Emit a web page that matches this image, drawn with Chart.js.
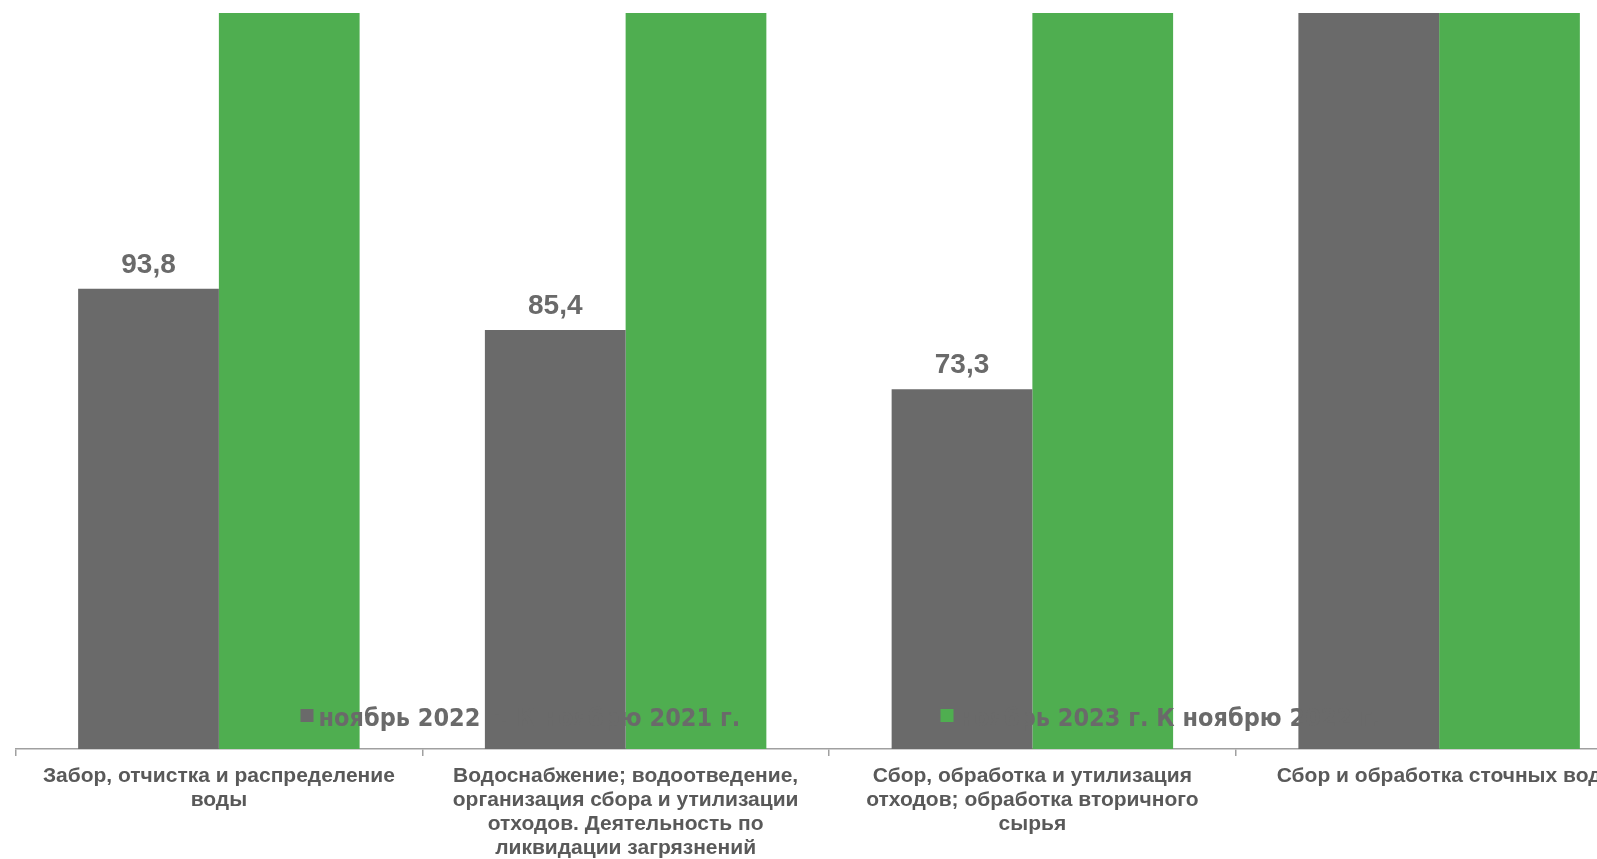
<!DOCTYPE html>
<html>
<head>
<meta charset="utf-8">
<script src="https://cdn.jsdelivr.net/npm/chart.js@4"></script>
<style>
html, body { margin: 0; padding: 0; background: #fff; overflow: hidden; }
#wrap { width: 1597px; height: 859px; overflow: hidden; position: relative; }
canvas { display: block; }
</style>
</head>
<body>
<div id="wrap"><canvas id="chart" width="1660" height="859"></canvas></div>
<script>
// Categories (wrapped the way the original labels wrap)
const CATEGORIES = [
    ['Забор, отчистка и распределение', 'воды'],
    ['Водоснабжение; водоотведение,', 'организация сбора и утилизации', 'отходов. Деятельность по', 'ликвидации загрязнений'],
    ['Сбор, обработка и утилизация', 'отходов; обработка вторичного', 'сырья'],
    ['Сбор и обработка сточных вод']
];

// Series values, % (bars above 150 run off the top of the plot)
const SERIES_2022 = [93.8, 85.4, 73.3, 158.6];
const SERIES_2023 = [181.2, 176.5, 212.4, 163.9];

const SERIES_NAMES = ['ноябрь 2022 г. К ноябрю 2021 г.', 'ноябрь 2023 г. К ноябрю 2022 г.'];

const Y_MIN = 0;
const Y_MAX = 150;

const GREY = '#6a6a6a';
const GREEN = '#4fae50';
const FONT = '"Liberation Sans", Arial, sans-serif';
const NARROW_FONT = '"Liberation Sans Narrow", "DejaVu Sans Condensed", sans-serif';

// Value labels above the bars that stay inside the plot
const barValueLabels = {
    id: 'barValueLabels',
    afterDatasetsDraw(chart) {
        const ctx = chart.ctx;
        ctx.save();
        ctx.font = 'bold 28px ' + FONT;
        ctx.fillStyle = GREY;
        ctx.textAlign = 'center';
        ctx.textBaseline = 'alphabetic';
        chart.data.datasets.forEach((ds, i) => {
            if (!ds.showValues) return;
            const meta = chart.getDatasetMeta(i);
            meta.data.forEach((bar, j) => {
                const v = ds.data[j];
                if (v > Y_MAX) return;
                ctx.fillText(v.toFixed(1).replace('.', ','), bar.x, bar.y - 16);
            });
        });
        ctx.restore();
    }
};

// Legend drawn over the bars, like in the original
const overlayLegend = {
    id: 'overlayLegend',
    afterDatasetsDraw(chart) {
        const ctx = chart.ctx;
        const area = chart.chartArea;
        ctx.save();
        ctx.font = 'bold 25px ' + NARROW_FONT;
        ctx.textBaseline = 'alphabetic';
        ctx.textAlign = 'left';
        chart.data.datasets.forEach((ds, i) => {
            const x = area.left + 285 + i * 640;
            ctx.fillStyle = ds.backgroundColor;
            ctx.fillRect(x, area.bottom - 40, 13, 13);
            ctx.fillStyle = GREY;
            ctx.fillText(ds.label, x + 18, area.bottom - 23);
        });
        ctx.restore();
    }
};

const ctx = document.getElementById('chart').getContext('2d');
const chart = new Chart(ctx, {
    type: 'bar',
    data: {
        labels: CATEGORIES,
        datasets: [{
            label: SERIES_NAMES[0],
            data: SERIES_2022,
            backgroundColor: GREY,
            showValues: true,
            clip: 0
        }, {
            label: SERIES_NAMES[1],
            data: SERIES_2023,
            backgroundColor: GREEN,
            showValues: false,
            clip: 0
        }]
    },
    options: {
        responsive: false,
        animation: false,
        categoryPercentage: 0.692,
        barPercentage: 1.0,
        layout: {
            padding: { top: 13, left: 15.5, right: 17.5, bottom: 0 }
        },
        plugins: {
            legend: { display: false },
            tooltip: { enabled: false }
        },
        scales: {
            x: {
                grid: {
                    display: true,
                    drawOnChartArea: false,
                    drawTicks: true,
                    tickLength: 7,
                    color: '#a0a0a0',
                    lineWidth: 1.5,
                    offset: true
                },
                border: { display: true, color: '#a0a0a0', width: 1.5 },
                ticks: {
                    color: '#595959',
                    font: { family: FONT, size: 21, weight: 'bold', lineHeight: 1.15 },
                    padding: 8,
                    maxRotation: 0,
                    autoSkip: false
                },
                afterFit(scale) {
                    scale.height = 110;
                }
            },
            y: {
                display: false,
                min: Y_MIN,
                max: Y_MAX
            }
        }
    },
    plugins: [barValueLabels, overlayLegend]
});
</script>
</body>
</html>
